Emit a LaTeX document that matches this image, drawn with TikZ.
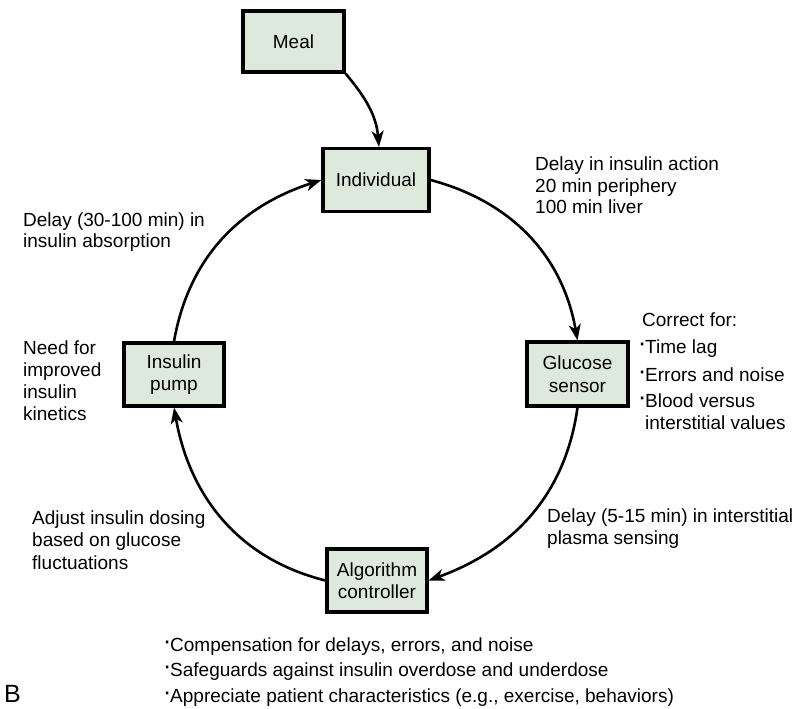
\documentclass[tikz,border=0pt]{standalone}
\usepackage{fontspec}
\setmainfont{Liberation Sans}
\usetikzlibrary{arrows.meta}
\definecolor{boxfill}{HTML}{DDE9DC}
\newcommand\bul{\makebox[6pt][c]{\raisebox{2pt}{\fontsize{26}{26}\selectfont ·}}}
\begin{document}
\begin{tikzpicture}[x=1pt,y=1pt,
  box/.style={draw=black, line width=3.2pt, fill=boxfill, minimum width=101pt,
    minimum height=63pt, inner sep=0pt, align=center,
    font=\fontsize{19}{22.5}\selectfont},
  lbl/.style={anchor=base west, inner sep=0pt, font=\fontsize{19}{22}\selectfont},
  conn/.style={line width=2.6pt, -{Stealth[length=16pt,width=12pt,inset=4.5pt]}}]
\useasboundingbox (0,0) rectangle (800,709);
% boxes
\node[box, minimum height=61pt] (meal) at (293.5,667.5) {Meal};
\node[box, minimum width=106pt] (ind) at (376,529) {Individual};
\node[box, minimum height=64pt] (glu) at (577.5,335) {Glucose\\sensor};
\node[box, minimum width=100pt] (pump) at (174,334.5) {Insulin\\pump};
\node[box, minimum width=100pt] (alg) at (377,128.5) {Algorithm\\controller};
% connectors
\draw[conn] (meal.south east) to[out=-50,in=95] ([xshift=3pt]ind.north);
\draw[conn] (ind.east) to[out=-15,in=100] (glu.north);
\draw[conn] (glu.south) to[out=-98,in=20] (alg.east);
\draw[conn] (alg.west) to[out=166,in=-80] (pump.south);
\draw[conn] (pump.north) to[out=80,in=-162] (ind.west);
% labels
\node[lbl] (t1a) at (535,538) {Delay in insulin action};
\node[lbl] (t1b) at (535,516) {20 min periphery};
\node[lbl] (t1c) at (535,495) {100 min liver};
\node[lbl] (t2a) at (23,482) {Delay (30-100 min) in};
\node[lbl] (t2b) at (23,461) {insulin absorption};
\node[lbl] (t3a) at (23,354) {Need for};
\node[lbl] (t3b) at (23,332) {improved};
\node[lbl] (t3c) at (23,310) {insulin};
\node[lbl] (t3d) at (23,288) {kinetics};
\node[lbl] (t4a) at (642,382) {Correct for:};
\node[lbl] (t4b) at (639,355) {\bul Time lag};
\node[lbl] (t4c) at (639,327.5) {\bul Errors and noise};
\node[lbl] (t4d) at (639,301) {\bul Blood versus};
\node[lbl] (t4e) at (645,279) {interstitial values};
\node[lbl] (t5a) at (32,184) {Adjust insulin dosing};
\node[lbl] (t5b) at (32,162) {based on glucose};
\node[lbl] (t5c) at (32,139) {fluctuations};
\node[lbl] (t6a) at (547,186) {Delay (5-15 min) in interstitial};
\node[lbl] (t6b) at (547,164) {plasma sensing};
\node[lbl] (t7a) at (164,57) {\bul Compensation for delays, errors, and noise};
\node[lbl] (t7b) at (164,32) {\bul Safeguards against insulin overdose and underdose};
\node[lbl] (t7c) at (164,6) {\bul Appreciate patient characteristics (e.g., exercise, behaviors)};
\node[anchor=base west, inner sep=0pt, font=\fontsize{25}{27}\selectfont] (lab) at (4,6) {B};
\end{tikzpicture}
\end{document}
